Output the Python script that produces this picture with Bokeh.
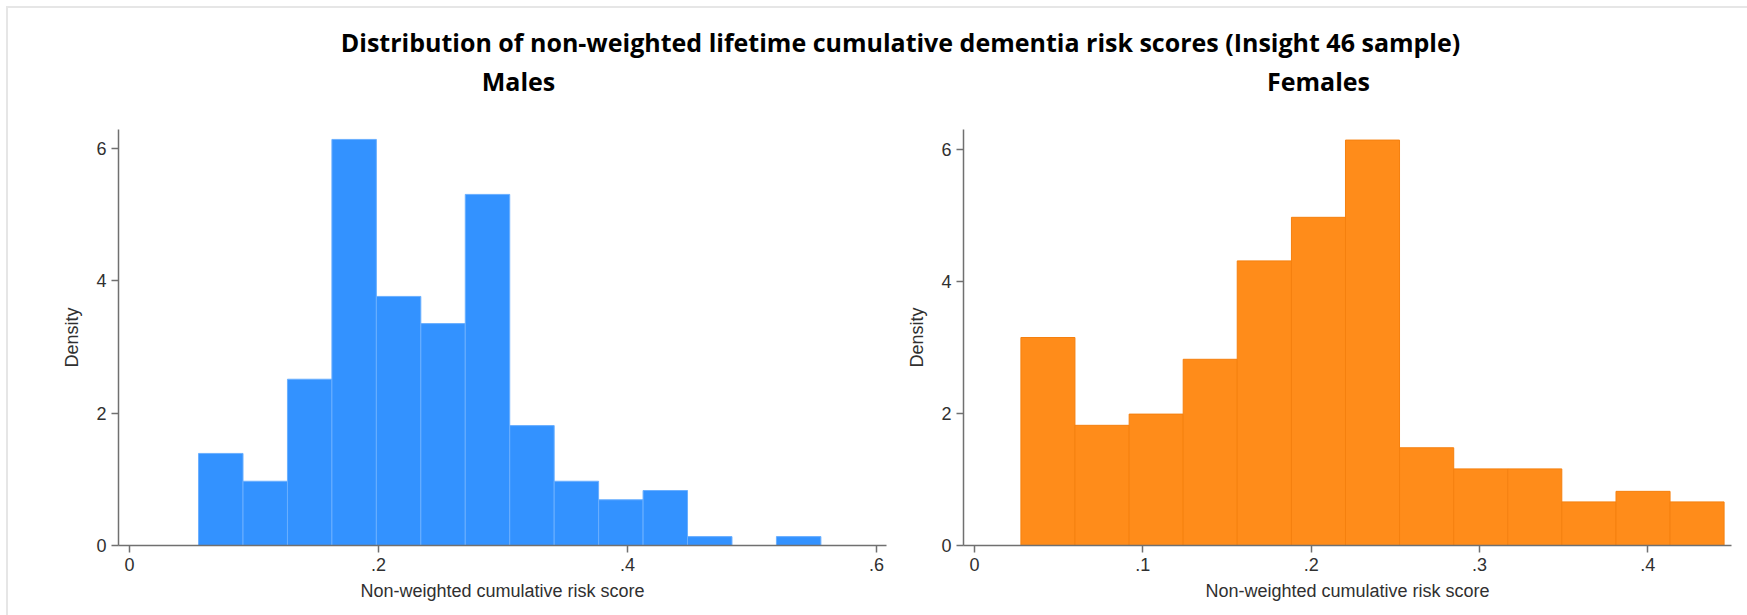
from bokeh.plotting import figure
from bokeh.layouts import column, row
from bokeh.models import Range1d, FixedTicker, ColumnDataSource
from bokeh.embed import file_html
from bokeh.resources import INLINE
from bokeh.core.properties import value

# ---------------- data ----------------
title_text = "Distribution of non-weighted lifetime cumulative dementia risk scores (Insight 46 sample)"
panel_titles = ["Males", "Females"]
x_label = "Non-weighted cumulative risk score"
y_label = "Density"

male_bin_edges = [0.0555, 0.0912, 0.1269, 0.1626, 0.1983, 0.2340, 0.2697, 0.3054,
                  0.3411, 0.3768, 0.4125, 0.4482, 0.4839, 0.5196, 0.5553]
male_density = [1.39, 0.97, 2.51, 6.13, 3.76, 3.35, 5.30, 1.81, 0.97, 0.69, 0.83, 0.134, 0.0, 0.134]

female_bin_edges = [0.0276, 0.0597, 0.0919, 0.1240, 0.1561, 0.1883, 0.2204, 0.2525,
                    0.2847, 0.3168, 0.3489, 0.3811, 0.4132, 0.4453]
female_density = [3.15, 1.82, 1.99, 2.82, 4.31, 4.97, 6.14, 1.48, 1.16, 1.16, 0.66, 0.82, 0.66]

male_xticks = [0, 0.2, 0.4, 0.6]
male_xtick_labels = ["0", ".2", ".4", ".6"]
female_xticks = [0, 0.1, 0.2, 0.3, 0.4]
female_xtick_labels = ["0", ".1", ".2", ".3", ".4"]
y_ticks = [0, 2, 4, 6]
y_tick_labels = ["0", "2", "4", "6"]

male_color, male_line = "#3392ff", "#6aafff"
female_color, female_line = "#ff8c1a", "#f5800f"

AXIS_FONT = "Liberation Sans"
TITLE_FONT = "Open Sans"
OFF = 8        # page border offset
STRIP = 112    # height of the title strip (page pixels)


def hist_panel(edges, dens, fill, line, xr, yr, xticks, xlabels, width, height,
               bl, br, bt, bb):
    p = figure(width=width, height=height, x_range=Range1d(*xr), y_range=Range1d(*yr),
               output_backend="svg", toolbar_location=None,
               min_border_left=bl, min_border_right=br, min_border_top=bt, min_border_bottom=bb)
    keep = [i for i, d in enumerate(dens) if d > 0]
    src = ColumnDataSource(dict(left=[edges[i] for i in keep],
                                right=[edges[i + 1] for i in keep],
                                top=[dens[i] for i in keep]))
    p.quad(left="left", right="right", bottom=0, top="top", source=src,
           fill_color=fill, line_color=line, line_width=1)
    p.xgrid.visible = False
    p.ygrid.visible = False
    p.outline_line_color = None
    p.border_fill_color = None
    p.background_fill_color = None
    p.xaxis.ticker = FixedTicker(ticks=xticks)
    p.xaxis.major_label_overrides = {t: l for t, l in zip(xticks, xlabels)}
    p.yaxis.ticker = FixedTicker(ticks=y_ticks)
    p.yaxis.major_label_overrides = {t: l for t, l in zip(y_ticks, y_tick_labels)}
    p.xaxis.axis_label = x_label
    p.yaxis.axis_label = y_label
    for ax in (p.xaxis[0], p.yaxis[0]):
        ax.axis_line_color = "#707070"
        ax.axis_line_width = 1.5
        ax.major_tick_line_color = "#707070"
        ax.major_tick_line_width = 1.5
        ax.major_tick_out = 7
        ax.major_tick_in = 0
        ax.minor_tick_line_color = None
        ax.major_label_text_font = AXIS_FONT
        ax.major_label_text_font_size = "18px"
        ax.major_label_text_color = "#303030"
        ax.major_label_standoff = 5
        ax.axis_label_text_font = AXIS_FONT
        ax.axis_label_text_font_size = "18px"
        ax.axis_label_text_font_style = "normal"
        ax.axis_label_text_color = "#303030"
    p.yaxis.axis_label_standoff = 11
    p.xaxis.axis_label_standoff = 7
    return p


# ---------------- title strip ----------------
tp = figure(width=1747 - OFF, height=STRIP - OFF, x_range=Range1d(0, 1747 - OFF),
            y_range=Range1d(STRIP - OFF, 0), output_backend="svg", toolbar_location=None,
            min_border=0)
tp.axis.visible = False
tp.grid.visible = False
tp.outline_line_color = None
tp.border_fill_color = None
tp.background_fill_color = None
tsrc = ColumnDataSource(dict(x=[900 - OFF, 518 - OFF, 1318 - OFF],
                             y=[41 - OFF, 80 - OFF, 80 - OFF],
                             t=[title_text] + panel_titles))
tp.text(x="x", y="y", text="t", source=tsrc, text_font=value(TITLE_FONT),
        text_font_style="bold", text_font_size="25px", text_align="center",
        text_baseline="middle", text_color="#000000")

# ---------------- panels ----------------
pl = hist_panel(male_bin_edges, male_density, male_color, male_line,
                (-0.0088, 0.608), (0, 6.28), male_xticks, male_xtick_labels,
                900 - OFF, 615 - STRIP, 118 - OFF, 14, 122 - STRIP, 70)
pr = hist_panel(female_bin_edges, female_density, female_color, female_line,
                (-0.0065, 0.4497), (0, 6.30), female_xticks, female_xtick_labels,
                847, 615 - STRIP, 63, 16, 129 - STRIP, 63)

layout = column(tp, row(pl, pr), margin=(6, 0, 0, 6),
                styles={"border-top": "2px solid #e6e6e6", "border-left": "2px solid #e6e6e6",
                        "background": "#ffffff"})

open("out.html", "w").write(file_html(layout, INLINE))
